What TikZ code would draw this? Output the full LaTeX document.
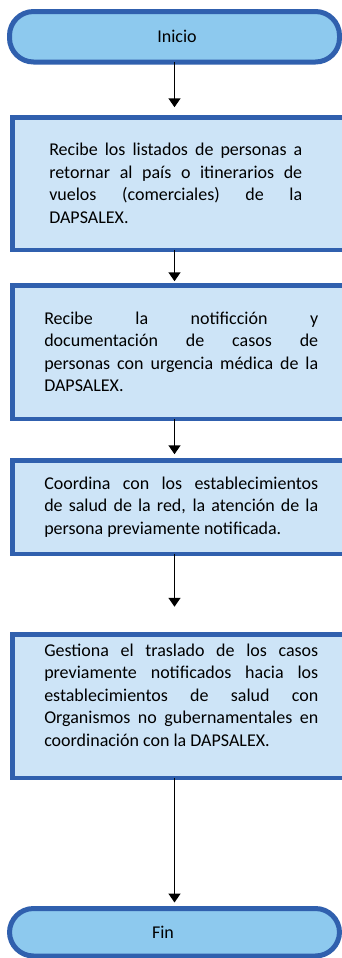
\documentclass[tikz,border=0pt]{standalone}
\usepackage{fontspec}
\setmainfont{Carlito}
\usepackage{tikz}
\usetikzlibrary{arrows.meta,matrix}

\definecolor{borde}{RGB}{48,96,174}
\definecolor{celeste}{RGB}{141,201,238}
\definecolor{claro}{RGB}{205,228,247}
\hyphenpenalty=10000

\begin{document}
\begin{tikzpicture}[x=1pt,y=-1pt, font=\fontsize{18}{22.5}\selectfont,
  terminal/.style={draw=borde, fill=celeste, line width=5pt, rounded corners=24pt,
    minimum width=330pt, minimum height=50.5pt, anchor=west},
  paso/.style={draw=borde, fill=claro, line width=4.5pt, inner sep=0pt,
    minimum width=337.5pt, anchor=west, xshift=3pt},
  flecha/.style={line width=1.5pt, -{Triangle[width=12pt,length=9pt]}}]
\useasboundingbox (0,0) rectangle (341,958);
\matrix (m)[matrix of nodes, anchor=north west, inner sep=0pt, outer sep=0pt, row sep=0pt] at (7,9) {
|[terminal]| \hspace{5pt}Inicio \\[50.5pt]
|[paso, minimum height=132.5pt]| \parbox{253pt}{Recibe los listados de personas a\linebreak retornar al país o itinerarios de\linebreak vuelos (comerciales) de la\linebreak DAPSALEX.}\hspace{11pt} \\[31pt]
|[paso, minimum height=133.5pt]| \parbox{274pt}{Recibe la notificción y\linebreak documentación de casos de\linebreak personas con urgencia médica de la\linebreak DAPSALEX.} \\[37pt]
|[paso, minimum height=93.5pt]| \parbox{274pt}{Coordina con los establecimientos\linebreak de salud de la red, la atención de la\linebreak persona previamente notificada.} \\[76pt]
|[paso, minimum height=143.5pt]| \parbox[c][125pt][t]{274pt}{Gestiona el traslado de los casos\linebreak previamente notificados hacia los\linebreak establecimientos de salud con\linebreak Organismos no gubernamentales en\linebreak coordinación con la DAPSALEX.} \\[126pt]
|[terminal, minimum height=47.5pt]| Fin\hspace{23pt} \\
};

\draw[flecha, shorten >=10pt] (m-1-1.south) -- (m-1-1.south |- m-2-1.north);
\draw[flecha, shorten >=4pt] (m-1-1.south |- m-2-1.south) -- (m-1-1.south |- m-3-1.north);
\draw[flecha, shorten >=6pt] (m-1-1.south |- m-3-1.south) -- (m-1-1.south |- m-4-1.north);
\draw[flecha, shorten >=27.5pt] (m-1-1.south |- m-4-1.south) -- (m-1-1.south |- m-5-1.north);
\draw[flecha, shorten >=6pt] (m-1-1.south |- m-5-1.south) -- (m-6-1.north);
\end{tikzpicture}
\end{document}
